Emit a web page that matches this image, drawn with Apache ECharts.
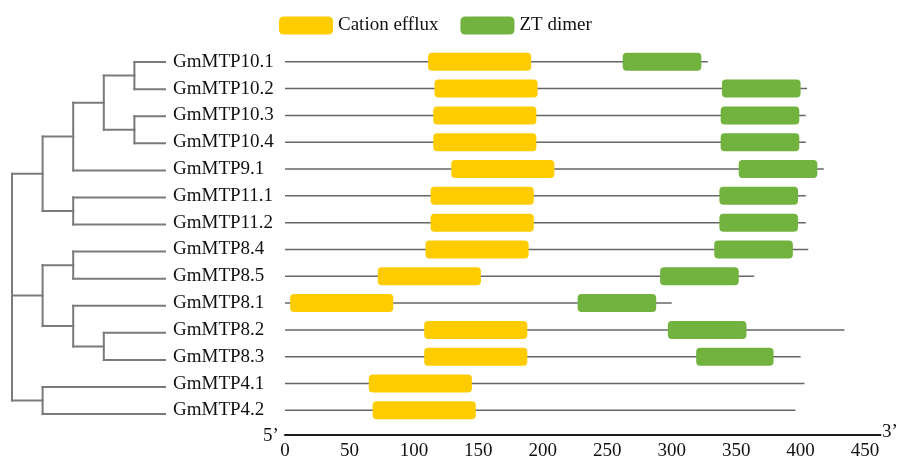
<!DOCTYPE html>
<html>
<head>
<meta charset="utf-8">
<script src="https://cdn.jsdelivr.net/npm/echarts@6/dist/echarts.min.js"></script>
<style>
html,body{margin:0;padding:0;background:#fff;}
#chart{width:901px;height:461px;}
</style>
</head>
<body>
<div id="chart"></div>
<script>
// ---- data ----
const genes = ['GmMTP10.1','GmMTP10.2','GmMTP10.3','GmMTP10.4','GmMTP9.1','GmMTP11.1','GmMTP11.2',
               'GmMTP8.4','GmMTP8.5','GmMTP8.1','GmMTP8.2','GmMTP8.3','GmMTP4.1','GmMTP4.2'];
const proteinLength = [328, 405, 404, 404, 418, 404, 404, 406, 364, 300, 434, 400, 403, 396];
const cationStart = [111, 116, 115, 115, 129, 113, 113, 109, 72, 4, 108, 108, 65, 68];
const cationEnd   = [191, 196, 195, 195, 209, 193, 193, 189, 152, 84, 188, 188, 145, 148];
const ztStart = [262, 339, 338, 338, 352, 337, 337, 333, 291, 227, 297, 319, null, null];
const ztEnd   = [323, 400, 399, 399, 413, 398, 398, 394, 352, 288, 358, 379, null, null];
const xTickLabels = [0, 50, 100, 150, 200, 250, 300, 350, 400, 450];
// tree: internal nodes with depth d and children (leaf = row index)
const tree = {d:0, c:[
  {d:1, c:[
    {d:2, c:[ {d:3, c:[ {d:4, c:[0,1]}, {d:4, c:[2,3]} ]}, 4 ]},
    {d:2, c:[5,6]}
  ]},
  {d:1, c:[
    {d:2, c:[7,8]},
    {d:2, c:[9, {d:3, c:[10,11]}]}
  ]},
  {d:1, c:[12,13]}
]};
const leafDepth = 5;

// ---- build ----
const treeSegs = [];
function layout(node){
  if (typeof node === 'number') return {row: node, d: leafDepth};
  const kids = node.c.map(layout);
  const rows = kids.map(k => k.row);
  const minR = Math.min(...rows), maxR = Math.max(...rows);
  treeSegs.push([node.d, minR, node.d, maxR]);
  kids.forEach(k => treeSegs.push([node.d, k.row, k.d, k.row]));
  return {row: (minR + maxR) / 2, d: node.d};
}
layout(tree);

const backbone = genes.map((g, i) => [i, proteinLength[i]]);
const cationData = genes.map((g, i) => [i, cationStart[i], cationEnd[i]]);
const ztData = [];
genes.forEach((g, i) => { if (ztStart[i] != null) ztData.push([i, ztStart[i], ztEnd[i]]); });

const YELLOW = '#FFCC00', GREEN = '#72B23F';
const FONT = '"Liberation Serif","Times New Roman",serif';

function boxRender(color){
  return function(params, api){
    const row = api.value(0);
    const p1 = api.coord([api.value(1), row]);
    const p2 = api.coord([api.value(2), row]);
    const h = 18;
    return {type:'rect', shape:{x:p1[0], y:p1[1]-h/2, width:p2[0]-p1[0], height:h, r:4},
            style:{fill:color}};
  };
}

const chart = echarts.init(document.getElementById('chart'), null, {renderer:'canvas'});
chart.setOption({
  animation:false,
  backgroundColor:'#fff',
  legend:{
    left:279, top:16, padding:0, itemGap:22,
    itemWidth:54, itemHeight:18, icon:'roundRect', selectedMode:false,
    data:['Cation efflux','ZT dimer'],
    textStyle:{fontFamily:FONT, fontSize:19, color:'#111'}
  },
  grid:[
    {left:285, width:595.5, top:35, height:404},
    {left:12, width:153, top:35, height:404}
  ],
  xAxis:[
    {gridIndex:0, type:'value', min:0, max:462, interval:50, position:'bottom',
     axisLine:{show:true, onZero:false, lineStyle:{color:'#1a1a1a', width:2}},
     axisTick:{show:false}, splitLine:{show:false},
     axisLabel:{margin:7, fontFamily:FONT, fontSize:19, color:'#111',
       formatter:v => xTickLabels.includes(v) ? String(v) : ''}},
    {gridIndex:1, type:'value', min:0, max:leafDepth, show:false}
  ],
  yAxis:[
    {gridIndex:0, type:'value', min:-1, max:13.92, interval:1, inverse:true,
     axisLine:{show:false, onZero:false}, axisTick:{show:false}, splitLine:{show:false},
     axisLabel:{align:'left', margin:112, fontFamily:FONT, fontSize:19, color:'#111',
       formatter:v => (Number.isInteger(v) && v >= 0 && v < genes.length) ? genes[v] : ''}},
    {gridIndex:1, type:'value', min:-1, max:13.92, inverse:true, show:false}
  ],
  series:[
    {type:'custom', name:'backbone', xAxisIndex:0, yAxisIndex:0, z:1,
     data:backbone, encode:{x:1, y:0},
     renderItem:function(params, api){
       const row = api.value(0);
       const a = api.coord([0, row]), b = api.coord([api.value(1), row]);
       return {type:'line', shape:{x1:a[0], y1:a[1], x2:b[0], y2:b[1]},
               style:{stroke:'#666', lineWidth:1.5}};
     }},
    {type:'custom', name:'Cation efflux', xAxisIndex:0, yAxisIndex:0, z:3,
     itemStyle:{color:YELLOW}, data:cationData, encode:{x:[1,2], y:0},
     renderItem:boxRender(YELLOW)},
    {type:'custom', name:'ZT dimer', xAxisIndex:0, yAxisIndex:0, z:3,
     itemStyle:{color:GREEN}, data:ztData, encode:{x:[1,2], y:0},
     renderItem:boxRender(GREEN)},
    {type:'custom', name:'tree', xAxisIndex:1, yAxisIndex:1, z:2,
     data:treeSegs,
     renderItem:function(params, api){
       const a = api.coord([api.value(0), api.value(1)]);
       const b = api.coord([api.value(2), api.value(3)]);
       return {type:'line', shape:{x1:a[0], y1:a[1], x2:b[0], y2:b[1]},
               style:{stroke:'#7a7a7a', lineWidth:2, lineCap:'square'}};
     }}
  ],
  graphic:[
    {type:'text', left:263, top:427, style:{text:'5\u2019', font:'19px ' + FONT, fill:'#111'}},
    {type:'text', left:882, top:423, style:{text:'3\u2019', font:'19px ' + FONT, fill:'#111'}}
  ]
});
</script>
</body>
</html>
